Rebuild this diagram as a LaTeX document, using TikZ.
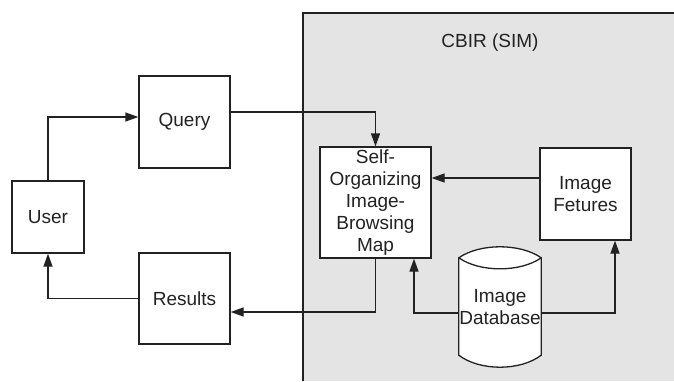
\documentclass[tikz,border=0pt]{standalone}
\usepackage{fontspec}
\setmainfont{Liberation Sans}
\usetikzlibrary{arrows.meta,calc}
\definecolor{panelgray}{HTML}{E4E4E4}
\definecolor{ink}{HTML}{222222}
\begin{document}
\begin{tikzpicture}[x=1pt,y=1pt,
  font=\fontsize{19}{21.8}\selectfont,
  box/.style={draw=ink, line width=1.3pt, fill=white, align=center, text=ink, inner sep=0pt},
  conn/.style={draw=ink, line width=1.3pt},
  arr/.style={conn, -{Triangle[length=13pt,width=9pt]}}]
\useasboundingbox (0,0) rectangle (674,-381);
% panel
\fill[panelgray] (303,-13) rectangle (674,-381);
\draw[ink, line width=1.5pt] (303,-381) -- (303,-13) -- (674,-13);
\node[text=ink] (cbir) at (490,-43) {CBIR (SIM)};
% boxes
\node[box, minimum width=91pt, minimum height=92pt] (query) at (184.5,-122) {Query};
\node[box, minimum width=72pt, minimum height=72pt] (user) at (48,-217) {User};
\node[box, minimum width=91pt, minimum height=91pt] (res) at (184.5,-298.5) {Results};
\node[box, minimum width=111pt, minimum height=111pt] (som) at (375.5,-202.5) {Self-\\Organizing\\Image-\\Browsing\\Map};
\node[box, minimum width=91pt, minimum height=92pt] (feat) at (585.5,-194) {Image\\Fetures};
% database cylinder
\node[minimum width=82pt, minimum height=120pt, inner sep=0pt] (db) at (500,-307) {};
\coordinate (tl) at ($(db.north west)+(0,-11)$);
\coordinate (tr) at ($(db.north east)+(0,-11)$);
\coordinate (bl) at ($(db.south west)+(0,12)$);
\coordinate (br) at ($(db.south east)+(0,12)$);
\draw[conn, fill=white] (tl) .. controls ($(tl)+(21,14.7)$) and ($(tr)+(-21,14.7)$) .. (tr)
  -- (br) .. controls ($(br)+(-21,-16)$) and ($(bl)+(21,-16)$) .. (bl) -- cycle;
\draw[conn] (tl) .. controls ($(tl)+(21,-14.7)$) and ($(tr)+(-21,-14.7)$) .. (tr);
\node[text=ink, align=center] (dbtext) at (500,-307) {Image\\Database};
% connectors
\coordinate (q1) at ([yshift=5pt]query.west);
\draw[arr] (user.north) |- (q1);
\coordinate (q2) at ([yshift=10pt]query.east);
\draw[arr] (q2) -| (som.north);
\coordinate (f1) at ([yshift=16pt]feat.west);
\draw[arr] (f1) -- (f1 -| som.east);
\coordinate (r1) at ([yshift=-13.5pt]res.east);
\draw[arr] (som.south) |- (r1);
\draw[arr] (res.west) -| (user.south);
\coordinate (d1) at ([yshift=-6pt]db.west);
\coordinate (s1) at ([xshift=38.5pt]som.south);
\draw[arr] (d1) -| (s1);
\coordinate (d2) at ([yshift=-6pt]db.east);
\coordinate (f2) at ([xshift=29.5pt]feat.south);
\draw[arr] (d2) -| (f2);
\end{tikzpicture}
\end{document}
